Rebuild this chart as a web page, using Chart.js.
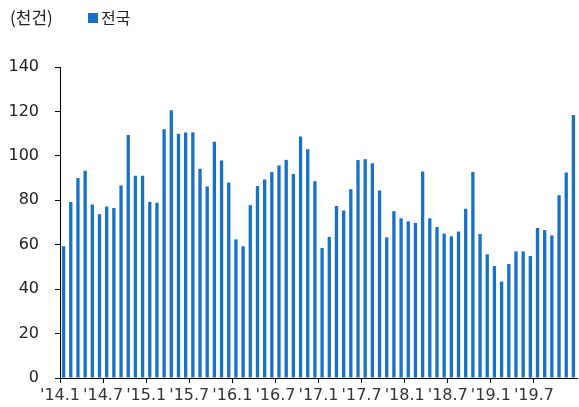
<!DOCTYPE html>
<html>
<head>
<meta charset="utf-8">
<script src="https://cdn.jsdelivr.net/npm/chart.js@4/dist/chart.umd.min.js"></script>
<style>
  html, body { margin: 0; padding: 0; background: #fff; }
  #wrap { width: 579px; height: 407px; }
</style>
</head>
<body>
<div id="wrap"><canvas id="tradeChart" width="579" height="407"></canvas></div>
<script>
// 월별 주택 매매거래량 (천건), 2014.1 ~ 2019.12
var months = [
  '14.01', '14.02', '14.03', '14.04', '14.05', '14.06', '14.07', '14.08', '14.09', '14.10', '14.11', '14.12',
  '15.01', '15.02', '15.03', '15.04', '15.05', '15.06', '15.07', '15.08', '15.09', '15.10', '15.11', '15.12',
  '16.01', '16.02', '16.03', '16.04', '16.05', '16.06', '16.07', '16.08', '16.09', '16.10', '16.11', '16.12',
  '17.01', '17.02', '17.03', '17.04', '17.05', '17.06', '17.07', '17.08', '17.09', '17.10', '17.11', '17.12',
  '18.01', '18.02', '18.03', '18.04', '18.05', '18.06', '18.07', '18.08', '18.09', '18.10', '18.11', '18.12',
  '19.01', '19.02', '19.03', '19.04', '19.05', '19.06', '19.07', '19.08', '19.09', '19.10', '19.11', '19.12',
];

var nationwide = [
  59.3, 79.2, 90.0, 93.3, 78.1, 73.7, 77.2, 76.5, 86.7, 109.4, 91.0, 91.0,
  79.3, 78.9, 112.0, 120.5, 110.0, 110.5, 110.6, 94.2, 86.2, 106.4, 97.9, 88.0,
  62.4, 59.3, 77.8, 86.4, 89.4, 92.7, 95.7, 98.2, 91.8, 108.7, 103.0, 88.6,
  58.5, 63.5, 77.4, 75.4, 85.0, 98.1, 98.5, 96.7, 84.4, 63.3, 75.1, 71.9,
  70.5, 69.8, 93.0, 71.9, 68.0, 65.0, 63.8, 66.0, 76.2, 92.7, 64.8, 55.7,
  50.4, 43.4, 51.3, 57.0, 57.0, 54.9, 67.5, 66.6, 64.2, 82.3, 92.5, 118.4,
];

var tickLabels = ["'14.1", "'14.7", "'15.1", "'15.7", "'16.1", "'16.7",
                  "'17.1", "'17.7", "'18.1", "'18.7", "'19.1", "'19.7"];

var unitLabel = '(천건)';
var barColor = '#1871c9';
var tickFont = { family: "'DejaVu Sans', 'Noto Sans CJK KR', sans-serif", size: 16 };
var krFont = "'Noto Sans CJK KR', 'Noto Sans', sans-serif";

// 단위 표기와 범례를 상단에 직접 그림
var headerPlugin = {
  id: 'header',
  afterDraw: function (chart) {
    var c = chart.ctx;
    var ds = chart.data.datasets[0];
    c.save();
    c.textBaseline = 'middle';
    c.textAlign = 'left';
    c.fillStyle = '#222';
    c.font = '17px ' + krFont;
    c.fillText(unitLabel, 10, 18);
    c.fillStyle = ds.backgroundColor;
    c.fillRect(88, 13, 10, 10);
    c.fillStyle = '#222';
    c.font = '16px ' + krFont;
    c.fillText(ds.label, 101, 18);
    c.restore();
  },
};

var ctx = document.getElementById('tradeChart').getContext('2d');
var tradeChart = new Chart(ctx, {
  type: 'bar',
  data: {
    labels: months,
    datasets: [
      {
        label: '전국',
        data: nationwide,
        backgroundColor: barColor,
        borderWidth: 0,
        barPercentage: 0.46,
        categoryPercentage: 1,
      },
    ],
  },
  options: {
    responsive: false,
    animation: false,
    layout: { padding: { top: 67, right: 2, left: 0, bottom: 0 } },
    plugins: {
      legend: { display: false },
      tooltip: { enabled: false },
    },
    scales: {
      x: {
        offset: true,
        grid: {
          offset: true,
          drawOnChartArea: false,
          drawTicks: true,
          tickLength: 5,
          color: function (c) {
            return c.index % 6 === 0 ? '#000' : 'rgba(0,0,0,0)';
          },
        },
        border: { display: true, color: '#000', width: 1 },
        ticks: {
          autoSkip: false,
          maxRotation: 0,
          minRotation: 0,
          padding: 3,
          labelOffset: -3.6,
          color: '#333',
          font: tickFont,
          callback: function (v, i) {
            return i % 6 === 0 ? tickLabels[i / 6] : '';
          },
        },
        afterFit: function (scale) {
          scale.height = 29;
        },
      },
      y: {
        min: 0,
        max: 140,
        grid: {
          drawOnChartArea: false,
          drawTicks: true,
          tickLength: 5,
          color: '#000',
        },
        border: { display: true, color: '#000', width: 1 },
        ticks: {
          stepSize: 20,
          padding: 16,
          color: '#222',
          font: tickFont,
        },
        afterFit: function (scale) {
          scale.width = 60;
        },
      },
    },
  },
  plugins: [headerPlugin],
});
</script>
</body>
</html>
